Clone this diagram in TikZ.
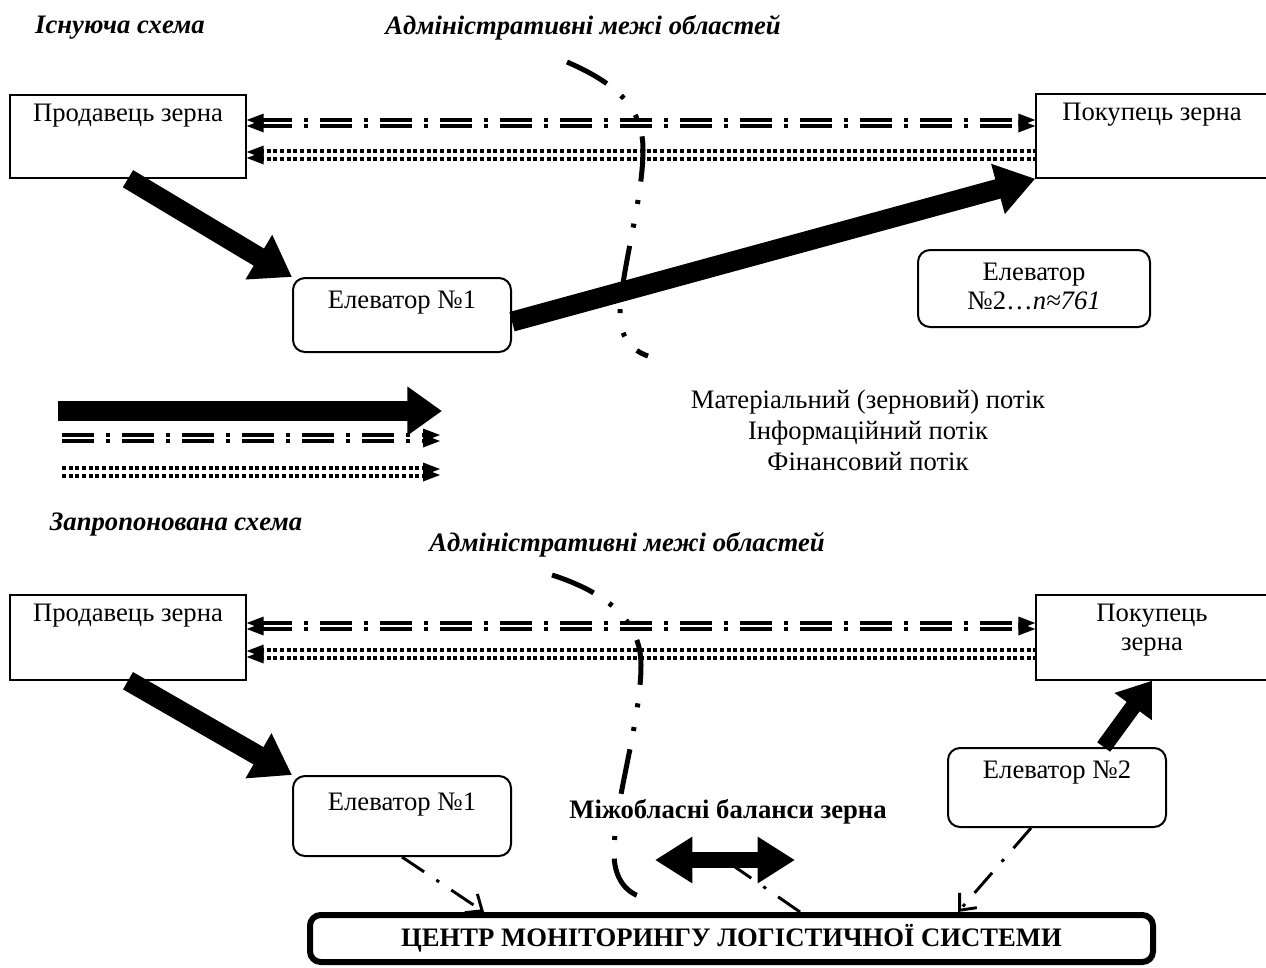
\documentclass[tikz,border=0pt]{standalone}
\usepackage{fontspec}
\setmainfont{Liberation Serif}
\usetikzlibrary{arrows.meta,calc}
\newcommand{\bx}[4]{\parbox[c][#2][t]{#1}{\vspace*{#3}\centering #4\par}}
\newcommand{\dblhead}[2]{\foreach \o in {-3,3}{\fill ([yshift=\o*0.75pt]#1) -- ++(-17*#2,-6.5) -- ++(0,13) -- cycle;}}
\tikzset{
 sqbox/.style={draw, line width=1.1pt, inner sep=0pt, fill=white},
 rbox/.style={draw, line width=1.5pt, rounded corners=9pt, inner sep=0pt, fill=white},
 matarrow/.style={line width=15pt, -{Triangle[length=29pt,width=37pt]}},
 infoline/.style={line width=2.5pt, double=white, double distance=2pt, dash pattern=on 24pt off 9pt on 3pt off 9pt},
 finline/.style={line width=3pt, double=white, double distance=2.5pt, dash pattern=on 3pt off 2pt},
 border/.style={line width=3.75pt, dash pattern=on 34pt off 14pt on 3pt off 15pt on 3pt off 14pt},
 ctrlline/.style={line width=2.2pt, dash pattern=on 20pt off 11pt on 2.5pt off 11pt},
 ctrlarrow/.style={ctrlline, -{Straight Barb[length=10pt,width=17pt]}},
 title/.style={font=\fontsize{20}{22}\selectfont\bfseries\itshape},
}
\begin{document}
\begin{tikzpicture}[x=0.75pt,y=-0.75pt,font=\fontsize{20}{22}\selectfont]
\useasboundingbox (0,0) rectangle (1266,967);

% ---------- titles ----------
\node[title] (t1) at (120,28) {Існуюча схема};
\node[title] (t2) at (583,28) {Адміністративні межі областей};
\node[title] (t3) at (176,525) {Запропонована схема};
\node[title] (t4) at (627,545) {Адміністративні межі областей};

% ---------- top scheme ----------
\node[sqbox] (s1) at (128,136.5) {\bx{177pt}{62.25pt}{6.5pt}{Продавець зерна}};
\node[sqbox] (b1) at (1152,136) {\bx{174pt}{63pt}{6.5pt}{Покупець зерна}};
\node[rbox] (e1) at (402,315) {\bx{163.5pt}{55.5pt}{9.5pt}{Елеватор №1}};
\node[rbox] (eN) at (1034,288.5) {\bx{174pt}{57.75pt}{9.5pt}{Елеватор\\№2…\textit{n≈761}}};

\coordinate (yi1) at (0,123);
\coordinate (yf1) at (0,155);
\coordinate (iL1) at (s1.east |- yi1);
\coordinate (iR1) at (b1.west |- yi1);
\coordinate (fL1) at (s1.east |- yf1);
\coordinate (fR1) at (b1.west |- yf1);
\draw[infoline, shorten <=10pt, shorten >=10pt] (iL1) -- (iR1);
\dblhead{iL1}{-1}
\dblhead{iR1}{1}
\draw[finline, shorten <=10pt] (fL1) -- (fR1);
\dblhead{fL1}{-1}

\draw[border] (567,62) .. controls (620,85) and (643,110) .. (643,150)
  .. controls (643,200) and (621,270) .. (620,315)
  .. controls (620,335) and (630,350) .. (648,356);

\draw[matarrow] (s1.south) -- (e1.north west);
\draw[matarrow] ([yshift=-5pt]e1.east) -- (b1.south west);

% ---------- legend ----------
\coordinate (lgA1) at (58,411);
\coordinate (lgB1) at (442,411);
\coordinate (lgA2) at (62,438);
\coordinate (lgB2) at (440,438);
\coordinate (lgA3) at (62,472);
\coordinate (lgB3) at (440,472);
\draw[line width=15pt, -{Triangle[length=26pt,width=35pt]}] (lgA1) -- (lgB1);
\draw[infoline, shorten >=10pt] (lgA2) -- (lgB2);
\dblhead{lgB2}{1}
\draw[finline, shorten >=10pt] (lgA3) -- (lgB3);
\dblhead{lgB3}{1}
\node[align=center, font=\fontsize{20}{23.25}\selectfont] (lgtext) at (868,430)
  {Матеріальний (зерновий) потік\\Інформаційний потік\\Фінансовий потік};

% ---------- bottom scheme ----------
\node[sqbox] (s2) at (128,637.5) {\bx{177pt}{63.75pt}{6.5pt}{Продавець зерна}};
\node[sqbox] (b2) at (1152,637.5) {\bx{174pt}{63.75pt}{6.5pt}{Покупець\\зерна}};
\node[rbox] (e1b) at (402,816) {\bx{163.5pt}{60pt}{13pt}{Елеватор №1}};
\node[rbox] (e2b) at (1057,787.5) {\bx{163.5pt}{59.25pt}{9.5pt}{Елеватор №2}};
\node[draw, line width=4.5pt, rounded corners=8pt, minimum width=632.25pt,
  minimum height=35.25pt, inner sep=0pt, font=\fontsize{20}{22}\selectfont\bfseries]
  (C) at (731.5,938.5) {ЦЕНТР МОНІТОРИНГУ ЛОГІСТИЧНОЇ СИСТЕМИ};

\coordinate (yi2) at (0,626);
\coordinate (yf2) at (0,654);
\coordinate (iL2) at (s2.east |- yi2);
\coordinate (iR2) at (b2.west |- yi2);
\coordinate (fL2) at (s2.east |- yf2);
\coordinate (fR2) at (b2.west |- yf2);
\draw[infoline, shorten <=10pt, shorten >=10pt] (iL2) -- (iR2);
\dblhead{iL2}{-1}
\dblhead{iR2}{1}
\draw[finline, shorten <=10pt] (fL2) -- (fR2);
\dblhead{fL2}{-1}

\draw[border] (552,575) .. controls (605,592) and (641,620) .. (641,665)
  .. controls (641,720) and (615,800) .. (614,850)
  .. controls (613,880) and (628,895) .. (646,898);

\node[font=\fontsize{20}{22}\selectfont\bfseries, fill=white, inner sep=1pt] (bal) at (728,812) {Міжобласні баланси зерна};

\draw[matarrow] (s2.south) -- (e1b.north west);
\draw[line width=12pt, -{Triangle[length=24pt,width=33pt]}] ([xshift=35pt]e2b.north) -- (b2.south);

\coordinate (dL) at (655,860);
\coordinate (dR) at (795,860);
\draw[ctrlline] ([xshift=369.75pt]C.north west) -- ($(dL)!0.5!(dR)$);
\draw[line width=12pt, {Triangle[length=28pt,width=33pt]}-{Triangle[length=28pt,width=33pt]}] (dL) -- (dR);

\draw[ctrlarrow] (e1b.south) -- ([xshift=132.75pt]C.north west);
\draw[ctrlarrow] ([xshift=-19.5pt]e2b.south) -- ([xshift=488.25pt]C.north west);
\end{tikzpicture}
\end{document}
